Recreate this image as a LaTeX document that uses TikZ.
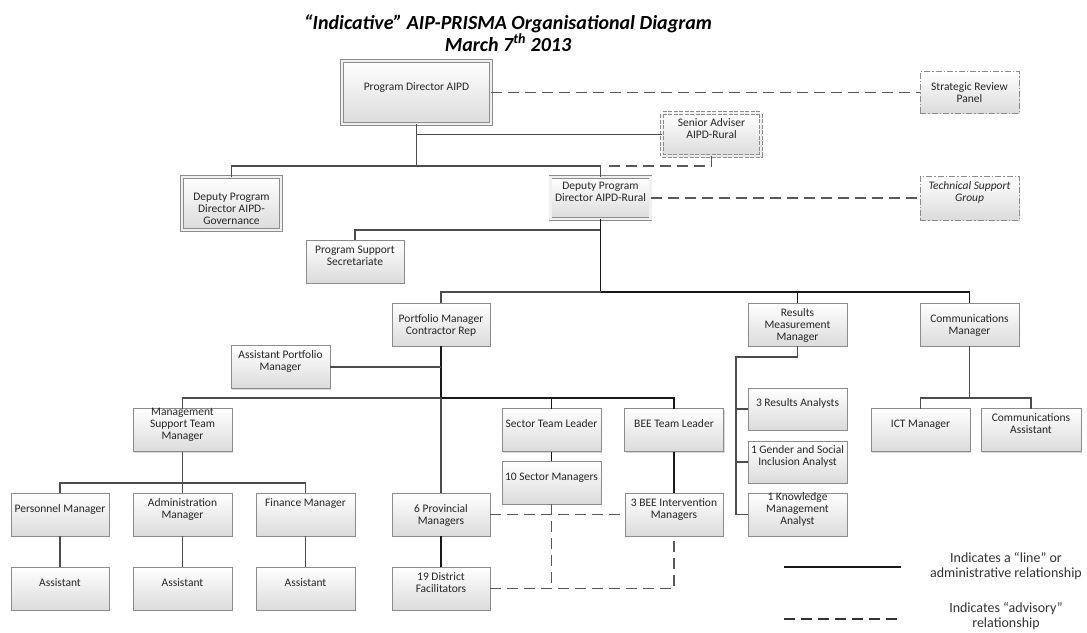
\documentclass[tikz,border=0pt]{standalone}
\usepackage{fontspec}
\setmainfont{Carlito}
\usetikzlibrary{positioning,shadows}

\newcommand{\boxtext}[2][1.5pt]{\makebox[0pt]{\raisebox{#1}[0pt][0pt]{\begin{tabular}{@{}c@{}}#2\end{tabular}}}}

\tikzset{
  unit/.style={draw=black!45, line width=0.8pt, rectangle, inner sep=0pt, outer sep=0pt,
    minimum width=99pt, minimum height=43pt, top color=white, bottom color=black!14,
    drop shadow={shadow xshift=1.2pt, shadow yshift=-1.2pt, opacity=0.3},
    text=black!85, font=\fontsize{11.5}{12}\selectfont},
  senior/.style={unit, double=black!6, double distance=2.2pt},
  adviser/.style={senior, dash pattern=on 4pt off 1.5pt},
  panel/.style={unit, dash pattern=on 6pt off 2pt on 1.5pt off 2pt},
  link/.style={draw=black!70, line width=1.3pt},
  trunk/.style={draw=black!90, line width=1.8pt},
  advisory/.style={draw=black!65, line width=1.3pt, dash pattern=on 11pt off 6pt},
  legendtext/.style={align=center, text=black!80, font=\fontsize{14}{15}\selectfont}
}

\begin{document}
\begin{tikzpicture}[x=1pt, y=-1pt]
\useasboundingbox (0,0) rectangle (1087,632);

\node[align=center, font=\fontsize{20}{20}\selectfont\bfseries\itshape] (head) at (508,33)
  {“Indicative” AIP-PRISMA Organisational Diagram\\March 7\textsuperscript{th} 2013};

% top level
\node[senior, minimum width=149pt, minimum height=63pt] (pd) at (416.5,92.5) {\boxtext{Program Director AIPD}};
\node[panel, minimum height=42pt] (srp) at (969.5,92) {\boxtext[-5pt]{Strategic Review\\Panel}};
\node[adviser] (sa) at (711.5,134.5) {\boxtext{Senior Adviser\\AIPD-Rural}};
\node[senior, minimum height=53pt] (gov) at (231.5,203.5) {\boxtext[-10pt]{Deputy Program\\Director AIPD-\\Governance}};
\node[senior, minimum width=100pt, minimum height=42pt] (rural) at (600.5,198) {\boxtext{Deputy Program\\Director AIPD-Rural}};
\node[panel, minimum height=44pt] (tsg) at (969.5,198) {\boxtext{\itshape Technical Support\\\itshape Group}};
\node[unit, minimum width=98pt] (pss) at (355,261.5) {\boxtext{Program Support\\Secretariate}};

% managers
\node[unit, minimum width=98pt] (pm) at (441,324.5) {\boxtext[-5pt]{Portfolio Manager\\Contractor Rep}};
\node[unit] (rmm) at (797.5,324.5) {\boxtext[-5pt]{Results\\Measurement\\Manager}};
\node[unit] (cm) at (969.5,324.5) {\boxtext[-5pt]{Communications\\Manager}};
\node[unit] (apm) at (280.5,367) {\boxtext{Assistant Portfolio\\Manager}};
\node[unit] (mst) at (182.5,430) {\boxtext{Management\\Support Team\\Manager}};
\node[unit] (stl) at (551.5,430) {\boxtext{Sector Team Leader}};
\node[unit] (bee) at (674,430) {\boxtext{BEE Team Leader}};
\node[unit, minimum height=42pt] (ra) at (797.5,409) {\boxtext{3 Results Analysts}};
\node[unit, minimum height=42pt] (gsi) at (797.5,462) {\boxtext{1 Gender and Social\\Inclusion Analyst}};
\node[unit] (km) at (797.5,514.5) {\boxtext{1 Knowledge\\Management\\Analyst}};
\node[unit] (ict) at (920.5,430) {\boxtext{ICT Manager}};
\node[unit, minimum width=100pt] (ca) at (1031,430) {\boxtext{Communications\\Assistant}};
\node[unit] (sm) at (551.5,482.5) {\boxtext{10 Sector Managers}};

% bottom rows
\node[unit, minimum width=98pt] (pers) at (60,514.5) {\boxtext{Personnel Manager}};
\node[unit] (adm) at (182.5,514.5) {\boxtext{Administration\\Manager}};
\node[unit] (fin) at (305.5,514.5) {\boxtext[7.5pt]{Finance Manager}};
\node[unit, minimum width=98pt] (prov) at (441,514.5) {\boxtext[-5pt]{6 Provincial\\Managers}};
\node[unit, minimum width=98pt] (bim) at (674,514.5) {\boxtext{3 BEE Intervention\\Managers}};
\node[unit, minimum width=98pt] (asst1) at (60,588.5) {\boxtext{Assistant}};
\node[unit] (asst2) at (182.5,588.5) {\boxtext{Assistant}};
\node[unit] (asst3) at (305.5,588.5) {\boxtext{Assistant}};
\node[unit, minimum width=98pt] (df) at (441,588.5) {\boxtext{19 District\\Facilitators}};

% junctions
\coordinate (split) at (416.5,166);
\coordinate (saend) at (605,166);
\coordinate (pssjoin) at (600.5,230);
\coordinate (mainjoin) at (600.5,292);
\coordinate (pmjoin) at (441,398);
\coordinate (mstjoin) at (182.5,483);
\coordinate (rmmjoin) at (736,357);
\coordinate (cmjoin) at (969.5,398);

% line relationships
\draw[link] (pd.south) -- (split);
\draw[link] (pd.south |- sa.west) -- (sa.west);
\draw[link] (gov.north) |- (split) -| (rural.north);
\draw[link] (pssjoin) -| (pss.north);
\draw[trunk] (rural.south) -- (mainjoin) -| (cm.north);
\draw[trunk] (mainjoin -| rmm.north) -- (rmm.north);
\draw[link] (mainjoin) -| (pm.north);
\draw[trunk] (pm.south) -- (pmjoin) -| (bee.north);
\draw[trunk] (pmjoin -| stl.north) -- (stl.north);
\draw[link] (apm.east) -- (apm.east -| pm.south);
\draw[link] (pmjoin) -| (mst.north);
\draw[link] (pmjoin) -- (prov.north);
\draw[trunk] (stl.south) -- (sm.north);
\draw[trunk] (bee.south) -- (bim.north);
\draw[trunk] (prov.south) -- (df.north);
\draw[link] (mst.south) -- (mstjoin);
\draw[link] (pers.north) |- (mstjoin) -| (fin.north);
\draw[link] (mstjoin) -- (adm.north);
\draw[link] (pers.south) -- (asst1.north);
\draw[link] (adm.south) -- (asst2.north);
\draw[link] (fin.south) -- (asst3.north);
\draw[link] (rmm.south) |- (rmmjoin) |- (km.west);
\draw[link] (rmmjoin |- ra.west) -- (ra.west);
\draw[link] (rmmjoin |- gsi.west) -- (gsi.west);
\draw[link] (cm.south) -- (cmjoin);
\draw[link] (ict.north) |- (cmjoin) -| (ca.north);

% advisory relationships
\draw[advisory] (pd.east) -- (pd.east -| srp.west);
\draw[advisory] (sa.south) |- (saend);
\draw[advisory] (rural.east) -- (tsg.west);
\draw[advisory] (prov.east) -- (bim.west);
\draw[advisory] (sm.south) -- (sm.south |- df.east);
\draw[advisory] (df.east) -| (bim.south);

% legend
\coordinate (lineA) at (784,567);
\coordinate (lineB) at (901,567);
\coordinate (advA) at (784,619);
\coordinate (advB) at (901,619);
\draw[trunk] (lineA) -- (lineB);
\draw[advisory, line width=1.8pt, draw=black!80] (advA) -- (advB);
\node[legendtext] (linekey) at (1006,566.5) {Indicates a “line” or\\administrative relationship};
\node[legendtext] (advkey) at (1006,616.5) {Indicates “advisory”\\relationship};
\end{tikzpicture}
\end{document}
